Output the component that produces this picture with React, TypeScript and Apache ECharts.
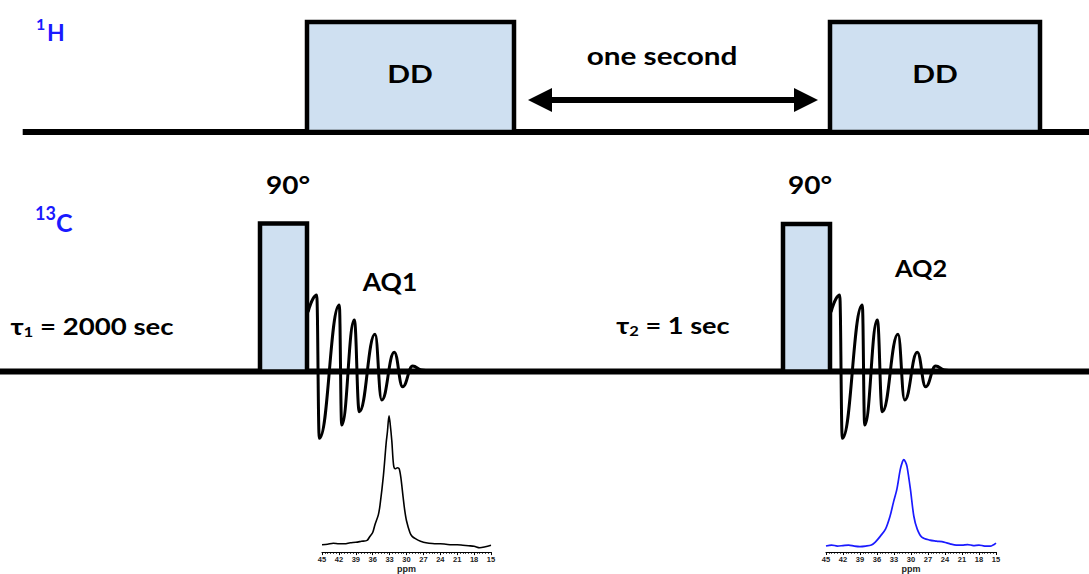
import React, { useEffect, useRef } from "react";
import * as echarts from "echarts";

// ---- Pulse-sequence layout data (diagram units = page pixels) ----
const hBaselineLevel = 132;
const cBaselineLevel = 371.5;
const hBaselineStart = 22.7;
const pageWidth = 1089;
const pageHeight = 574;

// [start, end, top, bottom]
const ddBlocks = [
  [307, 514, 22, 132],
  [830, 1040, 22, 132],
];
const pulseBlocks = [
  [260, 307, 223.5, 371.5],
  [783, 830, 224, 371.5],
];
const pulseEnds = [307, 830];

// FID: time after pulse end and amplitude above baseline
const fidTime = [1, 9.7, 12.3, 32.3, 34.7, 47.3, 52.3, 68, 74.7, 87.3, 95.7, 105.7, 114.7, 123];
const fidAmp = [59.5, 76.5, -66.8, 66.5, -53.5, 51.5, -40.2, 37.2, -28.5, 19.2, -15.2, 5.5, 1.5, 0];

// ---- Spectra (ppm vs intensity a.u.) ----
const ppm1 = [45, 44, 43, 42, 41, 40, 39, 38, 37, 36.5, 36, 35.6, 35, 34.7, 34.1, 33.6, 33.4, 33.1, 32.9, 32.6, 32.3, 32, 31.6, 31.3, 31, 30.6, 30.3, 30, 29.4, 29, 28.2, 27.5, 27, 26, 25, 24, 23, 22, 21, 20, 19, 18, 17, 16, 15];
const int1 = [7.5, 8, 9, 8.5, 8.5, 9.5, 10, 11, 12, 16, 20, 28, 38, 48, 78, 112, 122, 139, 131, 113, 89, 85, 86, 85, 76, 56, 42, 32, 20, 16, 13, 11, 10, 9, 8.5, 8.5, 8, 7.5, 7.5, 7, 6.5, 6, 4.5, 5.5, 7];

const ppm2 = [45, 44, 43, 42, 41, 40, 39, 38, 37, 36.3, 35.4, 34.5, 33.7, 33.1, 32.5, 31.9, 31.5, 31.3, 31.0, 30.7, 30.1, 29.5, 28.9, 28.1, 26.7, 25.5, 24.2, 23, 22, 21, 20, 19, 18, 17, 16, 15];
const int2 = [6, 7, 6, 6.5, 7, 6, 5.5, 6, 7, 10, 16, 23, 36, 50, 63, 83, 91, 93, 91, 86, 63, 36, 23, 15, 12, 11, 10, 8, 7, 7, 7.5, 6.5, 7, 6, 6, 9];

const ppmTicks = { min: 15, max: 45, interval: 3 };

const FONT = "Lato, 'Open Sans', 'DejaVu Sans', sans-serif";
const BLUE = "#1a1aff";
const BOX_FILL = "#cfe0f1";

function specAxis(gridIndex: number, nameGap: number) {
  return {
    type: "value",
    gridIndex,
    min: ppmTicks.min,
    max: ppmTicks.max,
    interval: ppmTicks.interval,
    inverse: true,
    name: "ppm",
    nameLocation: "middle",
    nameGap,
    nameTextStyle: { fontFamily: "'Liberation Sans', Arial", fontWeight: "bold", fontSize: 9, color: "#222" },
    axisLine: { show: true, lineStyle: { color: "#000", width: 1.2 } },
    axisTick: { show: true, length: 3, lineStyle: { color: "#000", width: 1 } },
    minorTick: { show: true, splitNumber: 6, length: 1.8, lineStyle: { color: "#000", width: 0.8 } },
    axisLabel: { fontFamily: "'Liberation Sans', Arial", fontWeight: "bold", fontSize: 7.5, color: "#222", margin: 3 },
    splitLine: { show: false },
  };
}

export default function App() {
  const ref = useRef<HTMLDivElement>(null);
  useEffect(() => {
    if (!ref.current) return;
    const chart = echarts.init(ref.current, null, { renderer: "svg" });

    const boxRender = (fill: string) => (params: any, api: any) => {
      const p0 = api.coord([api.value(0), api.value(2)]);
      const p1 = api.coord([api.value(1), api.value(3)]);
      return {
        type: "rect",
        shape: { x: p0[0], y: p0[1], width: p1[0] - p0[0], height: p1[1] - p0[1] },
        style: { fill, stroke: "#000", lineWidth: 4.5, lineJoin: "miter" },
      };
    };

    const fidSeries = pulseEnds.map((end) => ({
      type: "line",
      xAxisIndex: 0,
      yAxisIndex: 0,
      data: fidTime.map((t, i) => [end + t, cBaselineLevel - fidAmp[i]]),
      symbol: "none",
      smooth: 0.45,
      smoothMonotone: "x",
      lineStyle: { color: "#000", width: 3 },
      z: 4,
      silent: true,
    }));

    const text = (x: number, y: number, t: string, size: number, opts: any = {}) => ({
      type: "text",
      x,
      y,
      scaleX: opts.scaleX ?? 1,
      style: {
        text: t,
        fill: opts.color ?? "#000",
        fontFamily: FONT,
        fontWeight: "bold",
        fontSize: size,
        textAlign: opts.align ?? "center",
        textVerticalAlign: opts.valign ?? "middle",
        rich: opts.rich,
      },
      z: 10,
    });

    const tauRich = {
      t: { fontFamily: FONT, fontWeight: "bold", fontSize: 23, lineHeight: 26, fill: "#000" },
      s: { fontFamily: FONT, fontWeight: "bold", fontSize: 14, lineHeight: 14, verticalAlign: "bottom", fill: "#000" },
    };

    chart.setOption({
      animation: false,
      grid: [
        { left: 0, top: 0, width: pageWidth, height: pageHeight },
        { left: 322, top: 410, width: 169, height: 145 },
        { left: 826, top: 408, width: 170, height: 145 },
      ],
      xAxis: [
        { type: "value", gridIndex: 0, min: 0, max: pageWidth, show: false },
        specAxis(1, 11),
        specAxis(2, 12),
      ],
      yAxis: [
        { type: "value", gridIndex: 0, min: 0, max: pageHeight, inverse: true, show: false },
        { type: "value", gridIndex: 1, min: 0, max: 145, show: false },
        { type: "value", gridIndex: 2, min: 0, max: 145, show: false },
      ],
      series: [
        {
          type: "line",
          data: [[hBaselineStart, hBaselineLevel], [pageWidth, hBaselineLevel]],
          symbol: "none",
          lineStyle: { color: "#000", width: 6 },
          z: 1,
          silent: true,
          markLine: {
            silent: true,
            symbol: ["triangle", "triangle"],
            symbolSize: [24, 24],
            label: { show: false },
            lineStyle: { color: "#000", width: 6, type: "solid" },
            data: [[{ coord: [540, 100] }, { coord: [806, 100] }]],
          },
        },
        {
          type: "line",
          data: [[0, cBaselineLevel], [pageWidth, cBaselineLevel]],
          symbol: "none",
          lineStyle: { color: "#000", width: 6 },
          z: 1,
          silent: true,
        },
        {
          type: "custom",
          xAxisIndex: 0,
          yAxisIndex: 0,
          renderItem: boxRender(BOX_FILL),
          data: [...ddBlocks, ...pulseBlocks],
          encode: { x: [0, 1], y: [2, 3] },
          z: 3,
          silent: true,
        },
        ...fidSeries,
        {
          type: "line",
          xAxisIndex: 1,
          yAxisIndex: 1,
          data: ppm1.map((p, i) => [p, int1[i]]),
          symbol: "none",
          smooth: 0.3,
          lineStyle: { color: "#000", width: 1.6 },
          silent: true,
        },
        {
          type: "line",
          xAxisIndex: 2,
          yAxisIndex: 2,
          data: ppm2.map((p, i) => [p, int2[i]]),
          symbol: "none",
          smooth: 0.3,
          lineStyle: { color: BLUE, width: 1.7 },
          silent: true,
        },
      ],
      graphic: [
        text(36, 15, "1", 16, { color: BLUE, align: "left", valign: "top" }),
        text(47, 20, "H", 23, { color: BLUE, align: "left", valign: "top" }),
        text(35, 204, "13", 18, { color: BLUE, align: "left", valign: "top" }),
        text(56, 209, "C", 25, { color: BLUE, align: "left", valign: "top" }),
        text(410, 73, "DD", 25, { scaleX: 1.2 }),
        text(935, 73, "DD", 25, { scaleX: 1.2 }),
        text(662, 56, "one second", 24, { scaleX: 1.24 }),
        text(288, 185, "90°", 25, { scaleX: 1.12 }),
        text(810, 185, "90°", 25, { scaleX: 1.12 }),
        text(390, 281, "AQ1", 24, { scaleX: 1.1 }),
        text(921, 268, "AQ2", 23, { scaleX: 1.1 }),
        text(92, 326, "{t|τ}{s|1}{t| = 2000 sec}", 23, { rich: tauRich, scaleX: 1.2 }),
        text(673, 325, "{t|τ}{s|2}{t| = 1 sec}", 23, { rich: tauRich, scaleX: 1.18 }),
      ],
    });
    return () => chart.dispose();
  }, []);
  return (
    <div
      ref={ref}
      style={{ position: "absolute", left: 0, top: 0, width: pageWidth, height: pageHeight, background: "#fff" }}
    />
  );
}
